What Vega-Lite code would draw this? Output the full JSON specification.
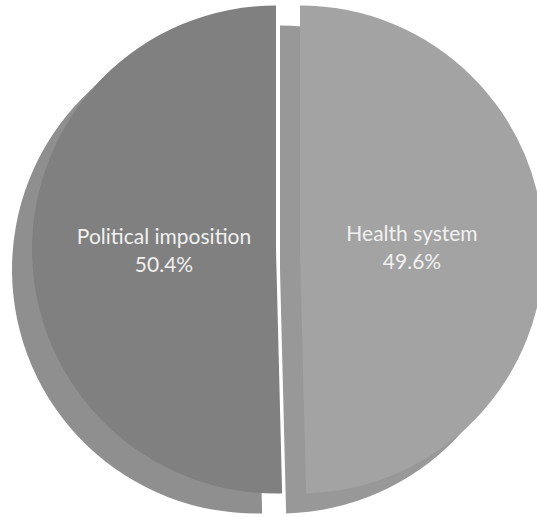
{
  "$schema": "https://vega.github.io/schema/vega-lite/v6.json",
  "width": 498,
  "height": 499,
  "autosize": "none",
  "padding": {"left": 39, "top": 0, "right": 0, "bottom": 18},
  "background": "white",
  "view": {"stroke": null},
  "data": {
    "values": [
      {"category": "Health system", "value": 49.6},
      {"category": "Political imposition", "value": 50.4}
    ]
  },
  "transform": [
    {"stack": "value", "groupby": [], "as": ["v0", "v1"]}
  ],
  "layer": [
    {
      "transform": [{"filter": "datum.category === 'Political imposition'"}],
      "mark": {"type": "arc", "outerRadius": 244, "xOffset": -32, "yOffset": 20, "color": "#8f8f8f"},
      "encoding": {
        "theta": {"field": "v0", "type": "quantitative", "stack": null, "scale": {"domain": [0, 100]}},
        "theta2": {"field": "v1"}
      }
    },
    {
      "transform": [{"filter": "datum.category === 'Health system'"}],
      "mark": {"type": "arc", "outerRadius": 244, "xOffset": -8, "yOffset": 20, "color": "#989898"},
      "encoding": {
        "theta": {"field": "v0", "type": "quantitative", "stack": null, "scale": {"domain": [0, 100]}},
        "theta2": {"field": "v1"}
      }
    },
    {
      "transform": [{"filter": "datum.category === 'Political imposition'"}],
      "mark": {"type": "arc", "outerRadius": 244, "xOffset": -12, "yOffset": 0, "color": "#808080"},
      "encoding": {
        "theta": {"field": "v0", "type": "quantitative", "stack": null, "scale": {"domain": [0, 100]}},
        "theta2": {"field": "v1"}
      }
    },
    {
      "transform": [{"filter": "datum.category === 'Health system'"}],
      "mark": {"type": "arc", "outerRadius": 244, "xOffset": 12, "yOffset": 0, "color": "#a3a3a3"},
      "encoding": {
        "theta": {"field": "v0", "type": "quantitative", "stack": null, "scale": {"domain": [0, 100]}},
        "theta2": {"field": "v1"}
      }
    },
    {
      "transform": [
        {"calculate": "[datum.category, format(datum.value, '.1f') + '%']", "as": "label"}
      ],
      "mark": {"type": "text", "radius": 124, "font": "Lato", "fontSize": 21, "lineHeight": 28, "dy": -13, "color": "#f0f0f0", "align": "center", "baseline": "middle"},
      "encoding": {
        "theta": {"field": "value", "type": "quantitative", "stack": true},
        "text": {"field": "label"}
      }
    }
  ]
}
